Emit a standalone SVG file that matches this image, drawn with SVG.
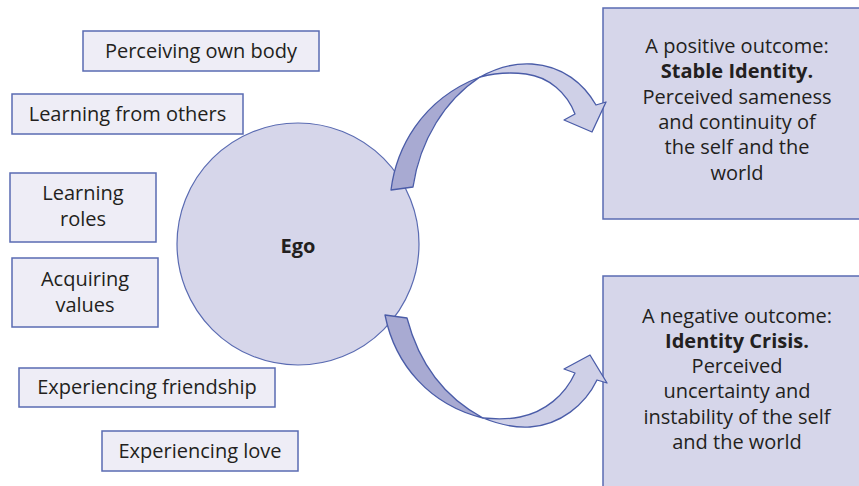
<svg xmlns="http://www.w3.org/2000/svg" width="859" height="486" viewBox="0 0 859 486">
<style>
.box{fill:#eeedf6;stroke:#5a6bb2;stroke-width:1.5}
.obox{fill:#d6d6ea;stroke:#5a6bb2;stroke-width:1.5}
.ego{fill:#d6d6ea;stroke:#5a6bb2;stroke-width:1.2}
.t{font-family:"Open Sans","Liberation Sans",sans-serif;font-size:20px;fill:#231f20;text-anchor:middle}
.b{font-weight:bold}
.dark{fill:#a8aad2;stroke:#4a5ca8;stroke-width:1.3;stroke-linejoin:round}
.light{fill:#cfd0e7;stroke:#4a5ca8;stroke-width:1.3;stroke-linejoin:round}
</style>
<rect width="859" height="486" fill="#ffffff"/>
<g id="ego">
<circle class="ego" cx="298" cy="244" r="121"/>
<text class="t b" x="298" y="253" font-size="23">Ego</text>
</g>
<g id="n-body"><rect class="box" x="83" y="31" width="236" height="40"/><text class="t" x="201" y="58">Perceiving own body</text></g>
<g id="n-others"><rect class="box" x="12" y="94" width="231" height="40"/><text class="t" x="127.5" y="121">Learning from others</text></g>
<g id="n-roles"><rect class="box" x="10" y="173" width="146" height="69"/><text class="t" x="83" y="200">Learning</text><text class="t" x="83" y="226">roles</text></g>
<g id="n-values"><rect class="box" x="12" y="258" width="146" height="69"/><text class="t" x="85" y="286">Acquiring</text><text class="t" x="85" y="312">values</text></g>
<g id="n-friend"><rect class="box" x="19" y="368" width="256" height="39"/><text class="t" x="147" y="394">Experiencing friendship</text></g>
<g id="n-love"><rect class="box" x="102" y="431" width="196" height="40"/><text class="t" x="200" y="458">Experiencing love</text></g>
<g id="n-stable">
<rect class="obox" x="603" y="8" width="270" height="211"/>
<text class="t" x="737" y="53">A positive outcome:</text>
<text class="t b" x="737" y="78">Stable Identity.</text>
<text class="t" x="737" y="104">Perceived sameness</text>
<text class="t" x="737" y="129">and continuity of</text>
<text class="t" x="737" y="154">the self and the</text>
<text class="t" x="737" y="180">world</text>
</g>
<g id="n-crisis">
<rect class="obox" x="603" y="276" width="270" height="220"/>
<text class="t" x="737" y="323">A negative outcome:</text>
<text class="t b" x="737" y="348">Identity Crisis.</text>
<text class="t" x="737" y="373">Perceived</text>
<text class="t" x="737" y="398">uncertainty and</text>
<text class="t" x="737" y="424">instability of the self</text>
<text class="t" x="737" y="449">and the world</text>
</g>
<g id="connectors">
<path class="light" d="M480,77 C498,67 516,63 532,64 C563,66 584,84 596,105 L606,102 L592,132 L564,120 L575,114 C567,93 549,77 526,74 C510,72 495,73 480,77 Z"/>
<path class="dark" d="M391,190 C396,150 420,100 480,77 C445,100 420,140 413,187 Z"/>
<path class="light" d="M483,418 C498,424 515,428 530,427 C560,425 585,405 597,380 L607,383 L590,355 L564,369 L575,373 C565,395 545,412 520,417 C505,420 494,419 483,418 Z"/>
<path class="dark" d="M385,315 C395,365 430,405 483,418 C440,395 418,360 407,318 Z"/>
</g>
</svg>
